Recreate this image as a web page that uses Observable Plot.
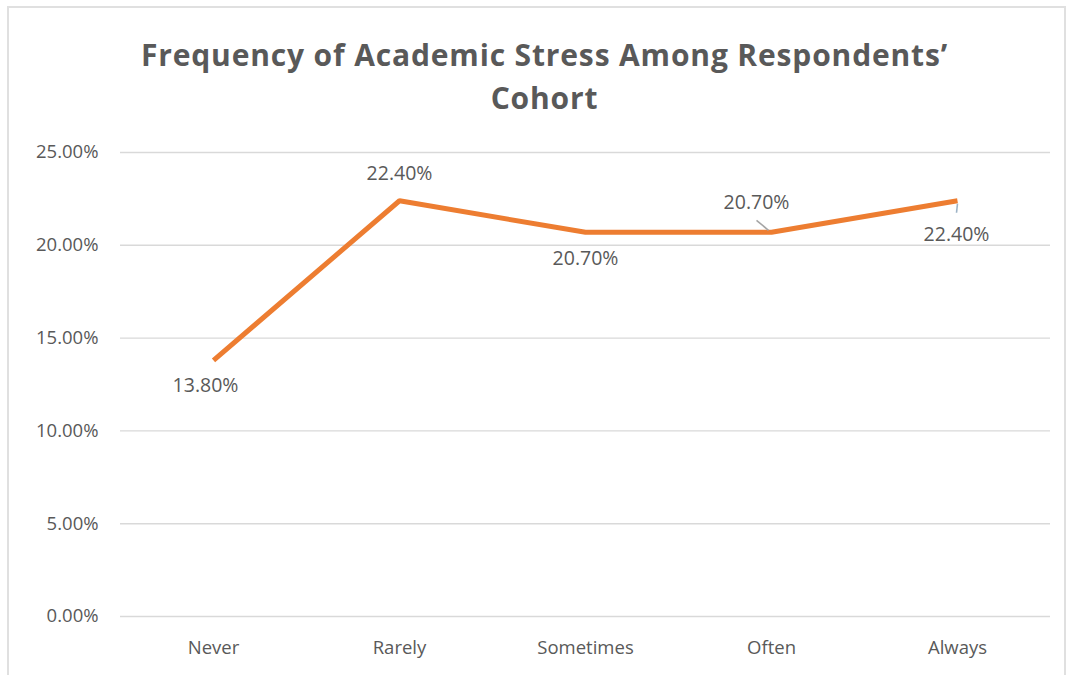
<!DOCTYPE html>
<html>
<head>
<meta charset="utf-8">
<script src="https://cdn.jsdelivr.net/npm/d3@7"></script>
<script src="https://cdn.jsdelivr.net/npm/@observablehq/plot@0.6"></script>
<style>
  html, body { margin: 0; padding: 0; background: #fff; }
  #frame {
    position: relative;
    width: 1069px; height: 675px;
    overflow: hidden;
    font-family: "Open Sans", sans-serif;
  }
  #border {
    position: absolute; left: 7px; top: 6px; right: 3px; bottom: -2px;
    border: 2px solid #e0e0e0; box-sizing: border-box;
  }
  #title {
    position: absolute; left: 0; top: 33px; width: 1089px;
    text-align: center; color: #595959;
    font-size: 30px; font-weight: 700; line-height: 43px;
    letter-spacing: 0.85px;
  }
  #chart { position: absolute; left: 0; top: 130px; }
</style>
</head>
<body>
<div id="frame">
  <div id="border"></div>
  <div id="title">Frequency of Academic Stress Among Respondents’<br>Cohort</div>
  <div id="chart"></div>
</div>
<script>
// Share of respondents by how often they experience academic stress (percent)
const categories = ["Never", "Rarely", "Sometimes", "Often", "Always"];
const shares = [13.8, 22.4, 20.7, 20.7, 22.4];
const yTicks = [0, 5, 10, 15, 20, 25];

const data = categories.map((c, i) => ({category: c, value: shares[i]}));
const fmt = v => v.toFixed(2) + "%";

const textColor = "#595959";
const lineColor = "#ED7D31";
const labelFont = 19.5;

// Data label for one category, nudged off its point
const label = (cat, dx, dy) =>
  Plot.text(data.filter(d => d.category === cat), {
    x: "category", y: "value", text: d => fmt(d.value),
    dx, dy, fill: textColor, fontSize: labelFont
  });

// Thin leader from a displaced label back to its point (offsets in pixels)
const leader = (cat, x1, y1, x2, y2, color) =>
  Plot.link(data.filter(d => d.category === cat), {
    x1: "category", y1: "value", x2: "category", y2: "value",
    stroke: color, strokeWidth: 1.6,
    render(index, scales, values, dims, ctx, next) {
      const g = next(index, scales, values, dims, ctx);
      g.querySelectorAll("path").forEach((p, k) => {
        const i = index[k];
        const px = values.x1[i], py = values.y1[i];
        p.setAttribute("d", `M${px + x1},${py + y1}L${px + x2},${py + y2}`);
      });
      return g;
    }
  });

const chart = Plot.plot({
  width: 1069,
  height: 545,
  marginTop: 22,
  marginBottom: 59,
  marginLeft: 120,
  marginRight: 19,
  style: {fontFamily: "Open Sans, sans-serif", fontSize: "18px", color: textColor, background: "transparent"},
  x: {type: "point", domain: categories, padding: 0.5},
  y: {domain: [0, 25]},
  marks: [
    Plot.gridY(yTicks, {stroke: "#d9d9d9", strokeOpacity: 1, strokeWidth: 1.4}),
    Plot.axisY(yTicks, {tickSize: 0, tickPadding: 22, tickFormat: fmt, fontSize: 18.5, fill: textColor, label: null}),
    Plot.axisX({tickSize: 0, tickPadding: 24, fontSize: 18.5, fill: textColor, label: null}),
    Plot.line(data, {x: "category", y: "value", stroke: lineColor, strokeWidth: 5, strokeLinejoin: "miter", strokeLinecap: "butt"}),
    leader("Often", -15, -12, -3, -2, "#a5a5a5"),
    leader("Always", 0, 3, -1, 12, "#9db3c6"),
    label("Never", -8, 25),
    label("Rarely", 0, -27),
    label("Sometimes", 0, 26),
    label("Often", -15, -30),
    label("Always", -1, 34)
  ]
});
document.getElementById("chart").appendChild(chart);
</script>
</body>
</html>
